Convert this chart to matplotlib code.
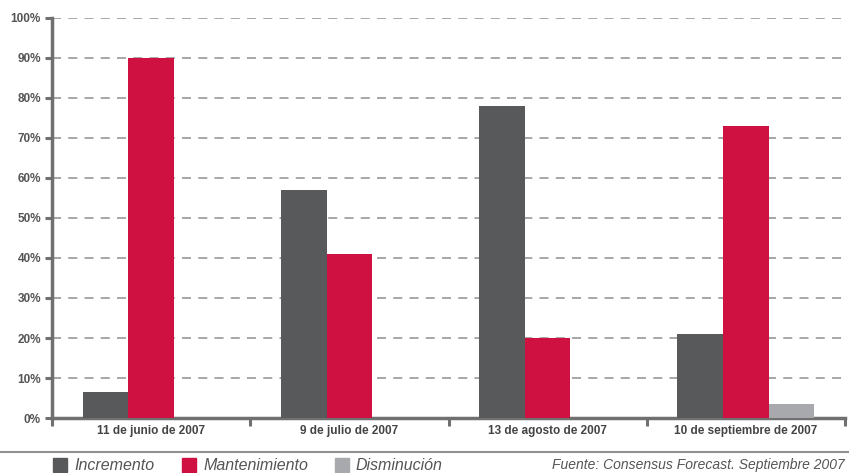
import numpy as np
import matplotlib.pyplot as plt
from matplotlib.lines import Line2D
from matplotlib.patches import Rectangle

fechas = ['11 de junio de 2007', '9 de julio de 2007', '13 de agosto de 2007', '10 de septiembre de 2007']
series = ['Incremento', 'Mantenimiento', 'Disminución']
incremento = [6.5, 57, 78, 21]
mantenimiento = [90, 41, 20, 73]
disminucion = [0, 0, 0, 3.5]
yticks = [0, 10, 20, 30, 40, 50, 60, 70, 80, 90, 100]
colores = ['#58595b', '#cf1141', '#a7a9ac']
fuente = 'Fuente: Consensus Forecast. Septiembre 2007'

plt.rcParams['font.family'] = ['Liberation Sans Narrow', 'Liberation Sans', 'DejaVu Sans']

fig = plt.figure(figsize=(8.49, 4.73), dpi=100)
ax = fig.add_axes([52/849, 1-418/473, (845-52)/849, 400/473])

x = np.arange(len(fechas))
w = 0.23
for i, vals in enumerate([incremento, mantenimiento, disminucion]):
    ax.bar(x + (i-1)*w, vals, width=w, color=colores[i], zorder=3, label=series[i])

ax.set_xlim(-0.5, 3.5)
ax.set_ylim(0, 100)
ax.set_yticks(yticks)
ax.set_yticklabels([f'{v}%' for v in yticks], fontsize=8.5, color='#555555', fontweight='bold')
ax.yaxis.grid(True, linestyle=(0, (5, 4)), color='#a0a0a0', linewidth=1.3, zorder=0)

ax.set_xticks([-0.5, 0.5, 1.5, 2.5, 3.5])
ax.set_xticklabels([])
ax.set_xticks(x, minor=True)
ax.set_xticklabels(fechas, minor=True, fontsize=8.5, color='#444444', fontweight='bold')
ax.tick_params(axis='x', which='minor', length=0, pad=5)
ax.tick_params(axis='x', which='major', length=6, width=2.2, color='#707070', direction='out')
ax.tick_params(axis='y', length=5, width=2.2, color='#707070', pad=3)

for s in ['top', 'right']:
    ax.spines[s].set_visible(False)
for s in ['left', 'bottom']:
    ax.spines[s].set_color('#707070')
    ax.spines[s].set_linewidth(2.5)

# linea separadora y leyenda inferior
fig.add_artist(Line2D([0, 1], [1-452/473, 1-452/473], color='#909090', linewidth=1.5))
lx = [53, 182, 335]
for i, nombre in enumerate(series):
    fig.add_artist(Rectangle((lx[i]/849, 1-472/473), 14/849, 14/473, color=colores[i]))
    fig.text((lx[i]+21)/849, 1-465/473, nombre, fontsize=11.5, style='italic',
             color='#555555', va='center', ha='left')
fig.text(845/849, 1-465/473, fuente, fontsize=10, style='italic',
         color='#555555', va='center', ha='right')

fig.savefig('out.png', dpi=100)
